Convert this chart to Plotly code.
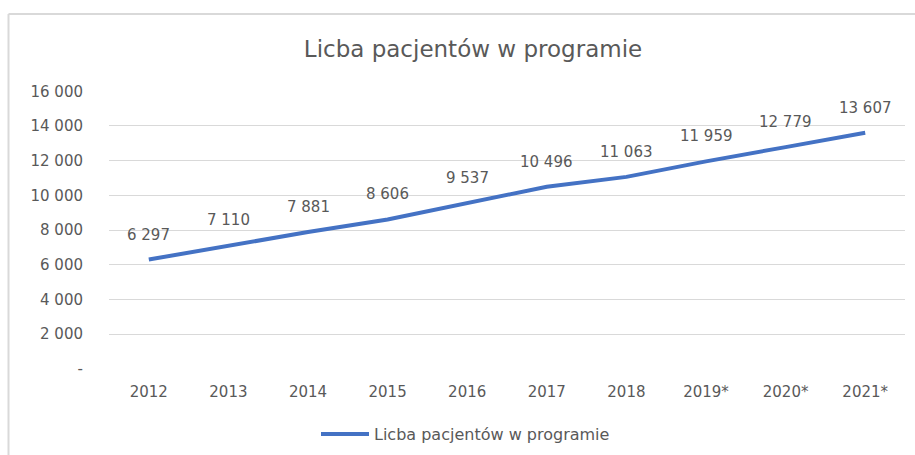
import plotly.graph_objects as go

categories = ["2012", "2013", "2014", "2015", "2016", "2017", "2018", "2019*", "2020*", "2021*"]
values = [6297, 7110, 7881, 8606, 9537, 10496, 11063, 11959, 12779, 13607]
labels = ["6 297", "7 110", "7 881", "8 606", "9 537", "10 496", "11 063", "11 959", "12 779", "13 607"]
ytick_vals = [0, 2000, 4000, 6000, 8000, 10000, 12000, 14000, 16000]
ytick_text = ["-", "2 000", "4 000", "6 000", "8 000", "10 000", "12 000", "14 000", "16 000"]
series_name = "Licba pacjentów w programie"
title_text = "Licba pacjentów w programie"

FONT = "DejaVu Sans, sans-serif"
GRAY = "#595959"

W, H = 915, 455
L, R, T, B = 109, 10, 91, 86
pw, ph = W - L - R, H - T - B

def px2x(px):
    return (px - L) / pw

def py2y(py):
    return (H - B - py) / ph

fig = go.Figure()
fig.add_trace(go.Scatter(
    x=categories, y=values, mode="lines", name=series_name,
    line=dict(color="#4472C4", width=4),
))

# category axis: annotation x given as category index so numeric-looking names are not misread
for i, (v, t) in enumerate(zip(values, labels)):
    fig.add_annotation(x=i, y=v, text=t, showarrow=False, yshift=25,
                       font=dict(family=FONT, size=15, color=GRAY))

fig.update_layout(
    width=W, height=H,
    margin=dict(l=L, r=R, t=T, b=B, autoexpand=False),
    paper_bgcolor="white", plot_bgcolor="white",
    font=dict(family=FONT, color=GRAY),
    title=dict(text=title_text, x=473 / W, xref="container", xanchor="center",
               y=1 - 49 / H, yref="container", yanchor="middle",
               font=dict(family=FONT, size=23, color=GRAY)),
    showlegend=True,
    legend=dict(orientation="h", x=px2x(316), xanchor="left",
                yref="container", y=1 - 434 / H, yanchor="middle",
                itemwidth=48, font=dict(family=FONT, size=16, color=GRAY)),
    xaxis=dict(type="category", categoryorder="array", categoryarray=categories,
               range=[-0.5, len(categories) - 0.5], showgrid=False, showline=False, ticks="",
               automargin=False,
               tickfont=dict(family=FONT, size=15, color=GRAY), fixedrange=True),
    yaxis=dict(range=[-15, 16015], tickvals=ytick_vals, ticktext=ytick_text, automargin=False,
               showgrid=True, gridcolor="#D9D9D9", gridwidth=1, zeroline=False, showline=False,
               ticks="", ticklen=0, tickfont=dict(family=FONT, size=15, color=GRAY)),
    shapes=[
        dict(type="line", xref="paper", yref="paper", x0=px2x(8.5), x1=px2x(W + 5), y0=py2y(14), y1=py2y(14),
             line=dict(color="#D9D9D9", width=2)),
        dict(type="line", xref="paper", yref="paper", x0=px2x(8.5), x1=px2x(8.5), y0=py2y(14), y1=py2y(H + 5),
             line=dict(color="#D9D9D9", width=2)),
    ],
)
fig.update_yaxes(ticklabelstandoff=25)
fig.update_xaxes(ticklabelstandoff=12)

fig.write_html("out.html")
